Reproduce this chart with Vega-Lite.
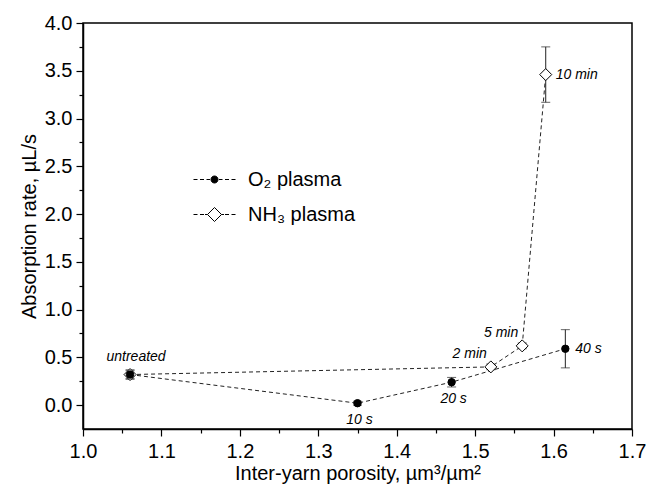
{
  "$schema": "https://vega.github.io/schema/vega-lite/v6.json",
  "width": 549,
  "height": 406,
  "autosize": "none",
  "padding": {"left": 83, "top": 23, "right": 14, "bottom": 67},
  "background": "white",
  "config": {
    "font": "Liberation Sans",
    "view": {"stroke": "black", "strokeWidth": 1.5},
    "axis": {
      "grid": false,
      "domainColor": "black",
      "domainWidth": 1.5,
      "tickColor": "black",
      "tickWidth": 1.2,
      "labelColor": "black",
      "labelFont": "Liberation Sans",
      "labelFontSize": 20,
      "titleFont": "Liberation Sans",
      "titleFontSize": 20,
      "titleFontWeight": "normal",
      "titleColor": "black",
      "labelFlush": false,
      "labelOverlap": false
    },
    "legend": {
      "labelFont": "Liberation Sans",
      "labelFontSize": 20,
      "labelColor": "black"
    }
  },
  "data": {
    "values": [
      {"series": "O₂ plasma", "x": 1.06, "y": 0.32, "lo": 0.27, "hi": 0.37, "label": "untreated"},
      {"series": "O₂ plasma", "x": 1.35, "y": 0.02, "lo": 0.0, "hi": 0.04, "label": "10 s"},
      {"series": "O₂ plasma", "x": 1.47, "y": 0.24, "lo": 0.19, "hi": 0.29, "label": "20 s"},
      {"series": "O₂ plasma", "x": 1.615, "y": 0.59, "lo": 0.39, "hi": 0.79, "label": "40 s"},
      {"series": "NH₃ plasma", "x": 1.06, "y": 0.32, "lo": 0.28, "hi": 0.36, "label": ""},
      {"series": "NH₃ plasma", "x": 1.52, "y": 0.4, "lo": 0.37, "hi": 0.43, "label": "2 min"},
      {"series": "NH₃ plasma", "x": 1.56, "y": 0.62, "lo": 0.59, "hi": 0.65, "label": "5 min"},
      {"series": "NH₃ plasma", "x": 1.59, "y": 3.46, "lo": 3.17, "hi": 3.75, "label": "10 min"}
    ]
  },
  "layer": [
    {
      "mark": {"type": "line", "stroke": "#222222", "strokeWidth": 1, "strokeDash": [4, 3]},
      "encoding": {
        "x": {"field": "x", "type": "quantitative", "scale": {"domain": [1.0, 1.7], "nice": false, "zero": false},
          "axis": {"orient": "bottom", "values": [1.05, 1.15, 1.25, 1.35, 1.45, 1.55, 1.65], "labels": false, "domain": false, "title": null, "tickSize": 4}},
        "y": {"field": "y", "type": "quantitative", "scale": {"domain": [-0.25, 4.0], "nice": false, "zero": false},
          "axis": {"orient": "left", "values": [0.25, 0.75, 1.25, 1.75, 2.25, 2.75, 3.25, 3.75], "labels": false, "domain": false, "title": null, "tickSize": 4}},
        "detail": {"field": "series"}
      }
    },
    {
      "mark": {"type": "rule", "stroke": "#222222", "strokeWidth": 1},
      "encoding": {
        "x": {"field": "x", "type": "quantitative",
          "axis": {"orient": "bottom", "values": [1.0, 1.1, 1.2, 1.3, 1.4, 1.5, 1.6, 1.7], "format": ".1f", "tickSize": 7, "labelPadding": 5, "titlePadding": 2, "title": "Inter-yarn porosity, µm³/µm²"}},
        "y": {"field": "lo", "type": "quantitative",
          "axis": {"orient": "left", "values": [0, 0.5, 1.0, 1.5, 2.0, 2.5, 3.0, 3.5, 4.0], "format": ".1f", "tickSize": 7, "labelPadding": 4, "titlePadding": 5, "title": "Absorption rate, µL/s"}},
        "y2": {"field": "hi"}
      }
    },
    {
      "mark": {"type": "tick", "orient": "horizontal", "size": 9, "thickness": 1, "color": "#222222"},
      "encoding": {
        "x": {"field": "x", "type": "quantitative", "axis": null},
        "y": {"field": "lo", "type": "quantitative", "axis": null}
      }
    },
    {
      "mark": {"type": "tick", "orient": "horizontal", "size": 9, "thickness": 1, "color": "#222222"},
      "encoding": {
        "x": {"field": "x", "type": "quantitative", "axis": null},
        "y": {"field": "hi", "type": "quantitative", "axis": null}
      }
    },
    {
      "transform": [{"filter": "datum.series == 'NH₃ plasma'"}],
      "mark": {"type": "point", "shape": "diamond", "size": 144, "filled": true, "fill": "white", "stroke": "black", "strokeWidth": 1, "opacity": 1},
      "encoding": {
        "x": {"field": "x", "type": "quantitative", "axis": null},
        "y": {"field": "y", "type": "quantitative", "axis": null}
      }
    },
    {
      "transform": [{"filter": "datum.series == 'O₂ plasma'"}],
      "mark": {"type": "point", "shape": "circle", "size": 55, "filled": true, "fill": "black", "stroke": "black", "strokeWidth": 1, "opacity": 1},
      "encoding": {
        "x": {"field": "x", "type": "quantitative", "axis": null},
        "y": {"field": "y", "type": "quantitative", "axis": null}
      }
    },
    {
      "transform": [{"filter": "datum.label == '2 min' || datum.label == '5 min'"}],
      "mark": {"type": "text", "align": "right", "baseline": "middle", "dx": -4, "dy": -12.5, "fontSize": 14, "fontStyle": "italic", "color": "black"},
      "encoding": {
        "x": {"field": "x", "type": "quantitative", "axis": null},
        "y": {"field": "y", "type": "quantitative", "axis": null},
        "text": {"field": "label"}
      }
    },
    {
      "transform": [{"filter": "datum.label == '10 s' || datum.label == '20 s'"}],
      "mark": {"type": "text", "align": "center", "baseline": "middle", "dx": 2, "dy": 16.5, "fontSize": 14, "fontStyle": "italic", "color": "black"},
      "encoding": {
        "x": {"field": "x", "type": "quantitative", "axis": null},
        "y": {"field": "y", "type": "quantitative", "axis": null},
        "text": {"field": "label"}
      }
    },
    {
      "transform": [{"filter": "datum.label == 'untreated'"}],
      "mark": {"type": "text", "align": "center", "baseline": "middle", "dx": 6, "dy": -18, "fontSize": 14, "fontStyle": "italic", "color": "black"},
      "encoding": {
        "x": {"field": "x", "type": "quantitative", "axis": null},
        "y": {"field": "y", "type": "quantitative", "axis": null},
        "text": {"field": "label"}
      }
    },
    {
      "transform": [{"filter": "datum.label == '10 min' || datum.label == '40 s'"}],
      "mark": {"type": "text", "align": "left", "baseline": "middle", "dx": 10, "dy": 0, "fontSize": 14, "fontStyle": "italic", "color": "black"},
      "encoding": {
        "x": {"field": "x", "type": "quantitative", "axis": null},
        "y": {"field": "y", "type": "quantitative", "axis": null},
        "text": {"field": "label"}
      }
    },
    {
      "mark": {"type": "point", "opacity": 0, "filled": true, "stroke": "black", "strokeWidth": 1},
      "encoding": {
        "x": {"field": "x", "type": "quantitative", "axis": null},
        "y": {"field": "y", "type": "quantitative", "axis": null},
        "shape": {"field": "series", "type": "nominal",
          "scale": {"domain": ["O₂ plasma", "NH₃ plasma"], "range": [
            "M-2.1,0H-1.7M-1.45,0H-1.05M-0.8,0H-0.45M0.45,0H0.8M1.05,0H1.45M1.7,0H2.1M-0.35,0A0.35,0.35,0,1,0,0.35,0A0.35,0.35,0,1,0,-0.35,0Z",
            "M-2.1,0H-1.7M-1.45,0H-1.05M-0.95,0H-0.7M0.7,0H0.95M1.05,0H1.45M1.7,0H2.1M-0.7,0L0,-0.7L0.7,0L0,0.7Z"
          ]},
          "legend": {"orient": "none", "legendX": 121, "legendY": 146, "title": null, "padding": 0, "symbolSize": 400, "symbolOpacity": 1, "symbolStrokeWidth": 1, "symbolStrokeColor": "black", "labelOffset": 23, "rowPadding": 14,
            "encode": {"symbols": {"update": {"stroke": {"value": "black"}, "strokeWidth": {"value": 1}, "opacity": {"value": 1}, "strokeOpacity": {"value": 1}}}}}},
        "fill": {"field": "series", "type": "nominal",
          "scale": {"domain": ["O₂ plasma", "NH₃ plasma"], "range": ["black", "white"]},
          "legend": {"orient": "none", "legendX": 121, "legendY": 146, "title": null, "padding": 0, "symbolSize": 400, "symbolOpacity": 1, "symbolStrokeWidth": 1, "symbolStrokeColor": "black", "labelOffset": 23, "rowPadding": 14,
            "encode": {"symbols": {"update": {"stroke": {"value": "black"}, "strokeWidth": {"value": 1}, "opacity": {"value": 1}, "strokeOpacity": {"value": 1}}}}}}
      }
    }
  ],
  "resolve": {"axis": {"x": "independent", "y": "independent"}}
}
